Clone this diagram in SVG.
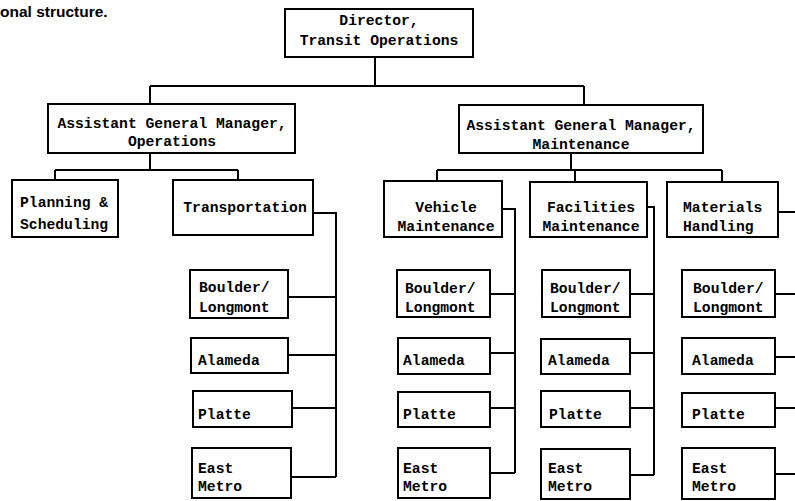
<svg xmlns="http://www.w3.org/2000/svg" width="795" height="501" viewBox="0 0 795 501">
<style>
.box{fill:#fff;stroke:#000;stroke-width:2}
.ln{fill:none;stroke:#000;stroke-width:2}
.t{font-family:"Liberation Mono","DejaVu Sans Mono",monospace;font-size:14.7px;font-weight:bold;fill:#000}
.c{text-anchor:middle}
.title{font-family:"Liberation Sans",Arial,sans-serif;font-size:15.5px;font-weight:bold;fill:#000}
</style>
<rect width="795" height="501" fill="#fff"/>
<text class="title" x="0" y="17">onal structure.</text>
<g id="connectors">
<path class="ln" d="M375 57V86M150 86H584M150 86V104M584 86V105"/>
<path class="ln" d="M150 153V170M55 170H238M55 170V180M238 170V180"/>
<path class="ln" d="M571 153V170M437 170H722M437 170V181M575 170V182M722 170V182"/>
<path class="ln" d="M313 213H336V477M288 297H336M288 355H336M292 408H336M291 477H336"/>
<path class="ln" d="M502 209H515V473M490 294H515M490 353H515M490 408H515M490 473H515"/>
<path class="ln" d="M647 207H654V475M630 294H654M630 353H654M630 408H654M630 475H654"/>
<path class="ln" d="M778 212H795M775 294H795M775 357H795M775 408H795M775 474H795"/>
</g>
<g id="director"><rect class="box" x="285" y="9" width="188" height="48"/><text class="t c" x="379" y="25">Director,</text><text class="t c" x="379" y="45">Transit Operations</text></g>
<g id="agm-ops"><rect class="box" x="48" y="104" width="247" height="49"/><text class="t c" x="172" y="128">Assistant General Manager,</text><text class="t c" x="172" y="146">Operations</text></g>
<g id="agm-maint"><rect class="box" x="459" y="105" width="244" height="48"/><text class="t c" x="581" y="130">Assistant General Manager,</text><text class="t c" x="581" y="149">Maintenance</text></g>
<g id="planning"><rect class="box" x="12" y="180" width="106" height="57"/><text class="t" x="20" y="207">Planning &amp;</text><text class="t" x="20" y="229">Scheduling</text></g>
<g id="transportation"><rect class="box" x="173" y="180" width="140" height="55"/><text class="t c" x="245" y="212">Transportation</text></g>
<g id="vehicle"><rect class="box" x="384" y="181" width="118" height="56"/><text class="t c" x="446" y="212">Vehicle</text><text class="t c" x="446" y="231">Maintenance</text></g>
<g id="facilities"><rect class="box" x="530" y="182" width="117" height="55"/><text class="t c" x="591" y="212">Facilities</text><text class="t c" x="591" y="231">Maintenance</text></g>
<g id="materials"><rect class="box" x="667" y="182" width="111" height="55"/><text class="t" x="683" y="212">Materials</text><text class="t" x="683" y="231">Handling</text></g>
<g id="t-boulder"><rect class="box" x="190" y="270" width="98" height="48"/><text class="t" x="199" y="292">Boulder/</text><text class="t" x="199" y="312">Longmont</text></g>
<g id="t-alameda"><rect class="box" x="191" y="338" width="97" height="35"/><text class="t" x="198" y="365">Alameda</text></g>
<g id="t-platte"><rect class="box" x="193" y="391" width="99" height="36"/><text class="t" x="198" y="419">Platte</text></g>
<g id="t-east"><rect class="box" x="192" y="448" width="99" height="50"/><text class="t" x="198" y="473">East</text><text class="t" x="198" y="491">Metro</text></g>
<g id="v-boulder"><rect class="box" x="397" y="270" width="93" height="47"/><text class="t" x="405" y="293">Boulder/</text><text class="t" x="405" y="312">Longmont</text></g>
<g id="v-alameda"><rect class="box" x="398" y="338" width="92" height="36"/><text class="t" x="403" y="365">Alameda</text></g>
<g id="v-platte"><rect class="box" x="398" y="392" width="92" height="35"/><text class="t" x="403" y="419">Platte</text></g>
<g id="v-east"><rect class="box" x="398" y="448" width="92" height="50"/><text class="t" x="403" y="473">East</text><text class="t" x="403" y="491">Metro</text></g>
<g id="f-boulder"><rect class="box" x="542" y="270" width="88" height="47"/><text class="t" x="550" y="293">Boulder/</text><text class="t" x="550" y="312">Longmont</text></g>
<g id="f-alameda"><rect class="box" x="541" y="339" width="89" height="35"/><text class="t" x="548" y="365">Alameda</text></g>
<g id="f-platte"><rect class="box" x="541" y="391" width="89" height="36"/><text class="t" x="549" y="419">Platte</text></g>
<g id="f-east"><rect class="box" x="541" y="449" width="89" height="50"/><text class="t" x="548" y="473">East</text><text class="t" x="548" y="491">Metro</text></g>
<g id="m-boulder"><rect class="box" x="682" y="270" width="93" height="47"/><text class="t" x="693" y="293">Boulder/</text><text class="t" x="693" y="312">Longmont</text></g>
<g id="m-alameda"><rect class="box" x="682" y="338" width="93" height="36"/><text class="t" x="692" y="365">Alameda</text></g>
<g id="m-platte"><rect class="box" x="682" y="393" width="93" height="34"/><text class="t" x="692" y="419">Platte</text></g>
<g id="m-east"><rect class="box" x="682" y="448" width="93" height="51"/><text class="t" x="692" y="473">East</text><text class="t" x="692" y="491">Metro</text></g>
</svg>
